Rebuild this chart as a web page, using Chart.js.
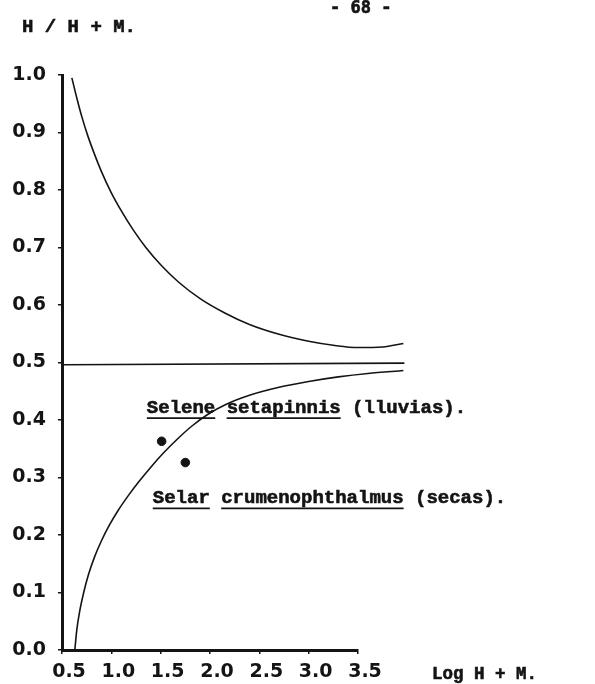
<!DOCTYPE html>
<html>
<head>
<meta charset="utf-8">
<script src="https://cdn.jsdelivr.net/npm/chart.js@4.4.1/dist/chart.umd.min.js"></script>
<style>
html, body { margin: 0; padding: 0; background: #ffffff; }
#wrap { width: 595px; height: 684px; }
</style>
</head>
<body>
<div id="wrap"><canvas id="grafik" width="595" height="684"></canvas></div>
<script>
// ==========================
// DATA
// ==========================
const xTicks = [0.5, 1.0, 1.5, 2.0, 2.5, 3.0, 3.5];
const yTicks = [0.0, 0.1, 0.2, 0.3, 0.4, 0.5, 0.6, 0.7, 0.8, 0.9, 1.0];

// batas atas
const upperX = [0.60, 0.65, 0.70, 0.76, 0.83, 0.90, 1.00, 1.10, 1.22, 1.35, 1.50, 1.68, 1.90, 2.15, 2.40, 2.70, 3.00, 3.25, 3.50, 3.75, 3.96];
const upperY = [0.995, 0.960, 0.928, 0.895, 0.862, 0.832, 0.795, 0.764, 0.731, 0.700, 0.670, 0.640, 0.611, 0.586, 0.566, 0.549, 0.537, 0.530, 0.526, 0.527, 0.533];

// garis tengah 0.5
const midX = [0.50, 3.97];
const midY = [0.496, 0.499];

// batas bawah
const lowerX = [0.63, 0.65, 0.68, 0.72, 0.77, 0.83, 0.90, 0.98, 1.07, 1.17, 1.28, 1.40, 1.53, 1.67, 1.82, 1.98, 2.16, 2.40, 2.70, 3.00, 3.30, 3.60, 3.96];
const lowerY = [0.000, 0.035, 0.068, 0.100, 0.132, 0.162, 0.190, 0.217, 0.243, 0.268, 0.293, 0.318, 0.343, 0.367, 0.390, 0.410, 0.427, 0.443, 0.457, 0.467, 0.475, 0.481, 0.486];

// titik spesies
const speciesNames = ['Selene setapinnis (lluvias)', 'Selar crumenophthalmus (secas)'];
const speciesX = [1.51, 1.75];
const speciesY = [0.363, 0.326];

const ink = '#141414';

// urutan dibalik supaya titik di luar sumbu x (> 3.5) tetap digambar
function toPoints(xs, ys) {
    return xs.map((x, i) => ({ x: x, y: ys[i] })).reverse();
}


// ==========================
// TEKS TAMBAHAN
// ==========================
function boldText(c, t, x, y) {
    c.fillText(t, x, y);
    c.lineWidth = 0.6;
    c.strokeText(t, x, y);
}

function writeParts(c, parts, x, y) {
    let cx = x;
    parts.forEach(p => {
        const w = c.measureText(p.t).width;
        boldText(c, p.t, cx, y);
        if (p.u) {
            c.lineWidth = 1.6;
            c.beginPath();
            c.moveTo(cx, y + 5);
            c.lineTo(cx + w, y + 5);
            c.stroke();
        }
        cx += w;
    });
}

const textPlugin = {
    id: 'textPlugin',
    afterDraw(chart) {
        const c = chart.ctx;
        const sx = chart.scales.x;
        const sy = chart.scales.y;

        c.save();
        c.fillStyle = ink;
        c.strokeStyle = ink;
        c.textAlign = 'left';
        c.textBaseline = 'alphabetic';

        c.font = 'bold 17px "DejaVu Sans Mono"';
        boldText(c, '- 68 -', 330, 13);

        c.font = 'bold 19px "Liberation Mono"';
        boldText(c, 'H / H + M.', 22, 32);

        c.font = 'bold 17.5px "Liberation Mono"';
        boldText(c, 'Log H + M.', 432, 679);

        c.font = 'bold 19px "Liberation Mono"';
        writeParts(c, [
            { t: 'Selene', u: true }, { t: ' ', u: false },
            { t: 'setapinnis', u: true }, { t: ' (lluvias).', u: false }
        ], sx.getPixelForValue(1.36), sy.getPixelForValue(0.412));

        writeParts(c, [
            { t: 'Selar', u: true }, { t: ' ', u: false },
            { t: 'crumenophthalmus', u: true }, { t: ' (secas).', u: false }
        ], sx.getPixelForValue(1.42), sy.getPixelForValue(0.255));

        c.restore();
    }
};


// ==========================
// GRAFIK
// ==========================
const lineStyle = {
    borderColor: ink,
    borderWidth: 1.6,
    pointRadius: 0,
    showLine: true,
    fill: false,
    clip: false,
    cubicInterpolationMode: 'monotone'
};

const tickFont = { family: '"DejaVu Sans"', weight: 'bold', size: 19 };

const ctx = document.getElementById('grafik').getContext('2d');

const chart = new Chart(ctx, {
    type: 'scatter',
    data: {
        datasets: [
            Object.assign({ label: 'upper', data: toPoints(upperX, upperY) }, lineStyle),
            Object.assign({ label: 'mid', data: toPoints(midX, midY) }, lineStyle),
            Object.assign({ label: 'lower', data: toPoints(lowerX, lowerY) }, lineStyle),
            {
                label: 'species',
                data: toPoints(speciesX, speciesY),
                backgroundColor: ink,
                borderColor: ink,
                pointRadius: 4.3,
                showLine: false
            }
        ]
    },
    options: {
        responsive: false,
        animation: false,
        events: [],
        layout: { padding: { top: 75, right: 237, bottom: 0, left: 0 } },
        plugins: {
            legend: { display: false },
            tooltip: { enabled: false }
        },
        scales: {
            x: {
                type: 'linear',
                min: 0.5,
                max: 3.5,
                afterFit: s => { s.height = 34; },
                afterBuildTicks: s => { s.ticks = xTicks.map(v => ({ value: v })); },
                border: { display: true, color: ink, width: 3 },
                grid: { drawOnChartArea: false, tickLength: 4, color: ink, lineWidth: 1.5 },
                ticks: {
                    color: ink,
                    padding: 7,
                    labelOffset: 7,
                    maxRotation: 0,
                    font: tickFont,
                    callback: v => Number(v).toFixed(1)
                }
            },
            y: {
                type: 'linear',
                min: 0,
                max: 1.0,
                afterFit: s => { s.width = 62; },
                afterBuildTicks: s => { s.ticks = yTicks.map(v => ({ value: v })); },
                border: { display: true, color: ink, width: 3 },
                grid: { drawOnChartArea: false, tickLength: 4, color: ink, lineWidth: 1.5 },
                ticks: {
                    color: ink,
                    padding: 12,
                    font: tickFont,
                    callback: v => Number(v).toFixed(1)
                }
            }
        }
    },
    plugins: [textPlugin]
});
</script>
</body>
</html>
